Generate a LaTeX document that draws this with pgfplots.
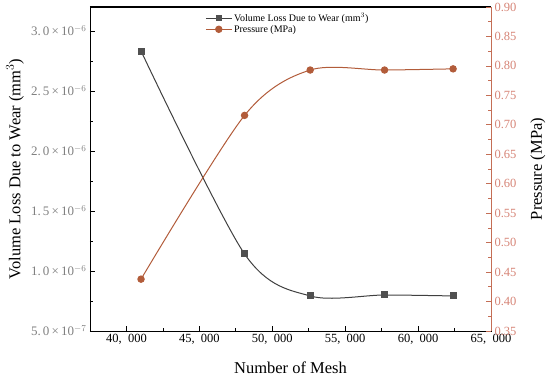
\documentclass[border=0pt]{standalone}
\usepackage{fontspec}
\setmainfont{Liberation Serif}
\usepackage{pgfplots}
\pgfplotsset{compat=1.18}
\definecolor{vol}{RGB}{64,64,64}
\definecolor{volmark}{RGB}{80,80,80}
\definecolor{pres}{RGB}{178,92,58}
\definecolor{presaxis}{RGB}{196,110,85}
\definecolor{prestick}{RGB}{214,132,118}
\definecolor{lefttick}{RGB}{128,128,128}
\begin{document}
\begin{tikzpicture}
\useasboundingbox (-90pt,-48pt) rectangle (460pt,331pt);
\pgfplotsset{
  every axis y label/.style={rotate=90, anchor=center},
  legend image code/.code={\draw[mark repeat=2,mark phase=2] plot coordinates {(0cm,0cm)(0.45cm,0cm)(0.9cm,0cm)};},
}
\begin{axis}[
  at={(0pt,0pt)}, anchor=south west,
  scale only axis, width=401pt, height=324pt,
  xmin=37500, xmax=65000, ymin=5e-7, ymax=3.2e-6,
  scaled x ticks=false, scaled y ticks=false,
  xtick={40000,45000,50000,55000,60000,65000},
  xticklabels={{40,\enspace000},{45,\enspace000},{50,\enspace000},{55,\enspace000},{60,\enspace000},{65,\enspace000}},
  minor x tick num=1,
  ytick={5e-7,1e-6,1.5e-6,2e-6,2.5e-6,3e-6},
  yticklabels={{5.\,0\,×\,10$^{-7}$},{1.\,0\,×\,10$^{-6}$},{1.\,5\,×\,10$^{-6}$},{2.\,0\,×\,10$^{-6}$},{2.\,5\,×\,10$^{-6}$},{3.\,0\,×\,10$^{-6}$}},
  minor y tick num=1,
  xtick pos=bottom, ytick pos=left,
  tick align=inside,
  major tick length=5pt, minor tick length=3pt,
  tick style={black, line width=0.7pt},
  axis line style={line width=0.8pt},
  xticklabel style={font=\fontsize{12.5}{13}\selectfont},
  yticklabel style={lefttick, font=\fontsize{13}{13}\selectfont},
  xlabel={Number of Mesh},
  ylabel={Volume Loss Due to Wear (mm$^3$)},
  label style={font=\fontsize{16.5}{18}\selectfont},
  xlabel style={at={(axis description cs:0.5,-0.114)}, anchor=center},
  ylabel style={at={(axis description cs:-0.187,0.5)}},
  clip=false,
]
\addplot[vol, line width=1pt, smooth, mark=square*, mark size=3pt, mark options={fill=volmark, draw=volmark}]
  coordinates {(41000,2.833e-6) (48100,1.142e-6) (52600,0.792e-6) (57700,0.80e-6) (62400,0.792e-6)};
\end{axis}
\begin{axis}[
  at={(0pt,0pt)}, anchor=south west,
  scale only axis, width=401pt, height=324pt,
  xmin=37500, xmax=65000, ymin=0.35, ymax=0.90,
  scaled y ticks=false,
  axis x line=none,
  axis y line*=right,
  ytick={0.35,0.40,...,0.90},
  yticklabel={\pgfmathparse{\tick}\pgfmathprintnumber[fixed,fixed zerofill,precision=2]{\pgfmathresult}},
  minor y tick num=1,
  tick align=inside,
  major tick length=5pt, minor tick length=3pt,
  tick style={presaxis, line width=0.7pt},
  y axis line style={presaxis, line width=0.9pt},
  yticklabel style={prestick, font=\fontsize{12.5}{13}\selectfont, /pgf/number format/assume math mode=true},
  ylabel={Pressure (MPa)},
  ylabel style={font=\fontsize{16.5}{18}\selectfont, at={(axis description cs:1.117,0.5)}},
  legend style={at={(0.285,0.99)}, anchor=north west, draw=none, fill=none,
    font=\fontsize{10}{11}\selectfont, row sep=-2pt, inner sep=1pt},
  legend cell align=left,
  clip=false,
]
\addlegendimage{vol, line width=1pt, mark=square*, mark size=2.6pt, mark options={fill=volmark, draw=volmark}}
\addlegendentry{Volume Loss Due to Wear (mm$^3$)}
\addplot[pres, line width=1pt, smooth, mark=*, mark size=3.2pt, mark options={fill=pres, draw=pres}]
  coordinates {(41000,0.438) (48100,0.716) (52600,0.793) (57700,0.793) (62400,0.795)};
\addlegendentry{Pressure (MPa)}
\draw[black, line width=1pt] (rel axis cs:0,1) -- (rel axis cs:1,1);
\end{axis}
\end{tikzpicture}
\end{document}
